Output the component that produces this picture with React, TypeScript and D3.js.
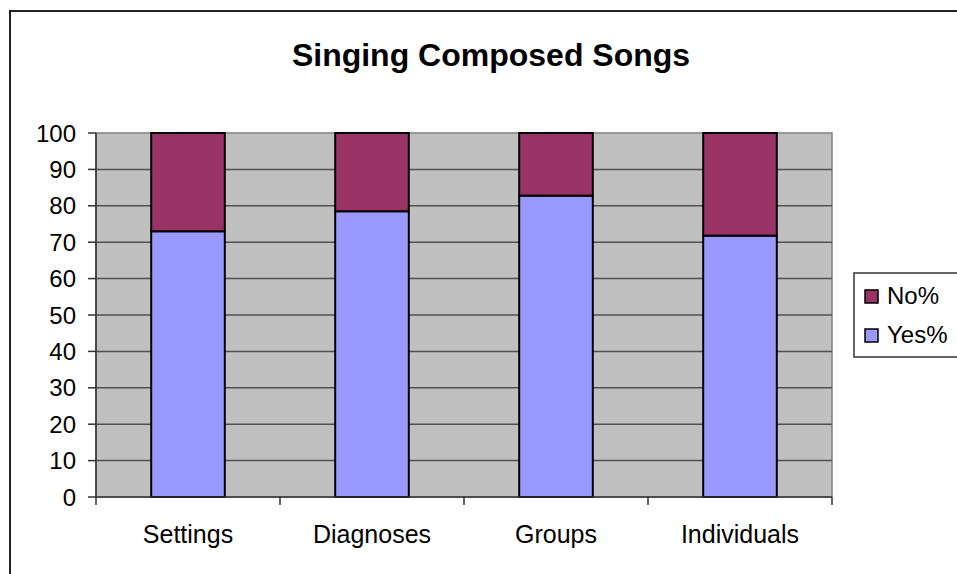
import * as d3 from "d3";

const categories = ["Settings", "Diagnoses", "Groups", "Individuals"];
const yesValues = [73, 78.5, 82.8, 71.8];
const noValues = [27, 21.5, 17.2, 28.2];
const yTicks = [0, 10, 20, 30, 40, 50, 60, 70, 80, 90, 100];
const seriesNames = ["Yes%", "No%"];
const seriesColors = ["#9999FF", "#993366"];

const W = 957;
const H = 574;
const plot = { left: 96, top: 133, right: 832, bottom: 497 };
const font = "'Liberation Sans', Arial, sans-serif";

export default function App() {
	const x = d3
		.scaleBand()
		.domain(categories)
		.range([plot.left, plot.right])
		.paddingInner(0)
		.paddingOuter(0);
	const y = d3.scaleLinear().domain([0, 100]).range([plot.bottom, plot.top]);

	const rows = categories.map((c, i) => ({
		cat: c,
		"Yes%": yesValues[i],
		"No%": noValues[i],
	}));
	const stacked = d3.stack<any>().keys(seriesNames)(rows);
	const barW = x.bandwidth() * 0.4;

	return (
		<svg
			width={W}
			height={H}
			style={{ position: "absolute", left: 0, top: 0, background: "#fff" }}
			fontFamily={font}
		>
			<rect x={10} y={11} width={W + 20} height={H + 20} fill="#fff" stroke="#222" strokeWidth={2} />
			<text x={491} y={66} textAnchor="middle" fontSize={32} fontWeight="bold">
				Singing Composed Songs
			</text>

			<rect
				x={plot.left}
				y={plot.top}
				width={plot.right - plot.left}
				height={plot.bottom - plot.top}
				fill="#C0C0C0"
				stroke="#808080"
				strokeWidth={1.5}
			/>
			{yTicks.map((t) => (
				<g key={t}>
					{t > 0 && t < 100 && (
						<line x1={plot.left} x2={plot.right} y1={y(t)} y2={y(t)} stroke="#505050" strokeWidth={1.5} />
					)}
					<line x1={plot.left - 8} x2={plot.left} y1={y(t)} y2={y(t)} stroke="#333" strokeWidth={1.5} />
					<text x={76} y={y(t)} dy="0.36em" textAnchor="end" fontSize={24}>
						{t}
					</text>
				</g>
			))}

			{stacked.map((s, si) =>
				s.map((d, i) => (
					<rect
						key={seriesNames[si] + i}
						x={(x(categories[i]) as number) + (x.bandwidth() - barW) / 2}
						y={y(d[1])}
						width={barW}
						height={y(d[0]) - y(d[1])}
						fill={seriesColors[si]}
						stroke="#000"
						strokeWidth={2}
					/>
				))
			)}

			<line x1={plot.left} x2={plot.left} y1={plot.top} y2={plot.bottom} stroke="#333" strokeWidth={1.5} />
			<line x1={plot.left} x2={plot.right} y1={plot.bottom} y2={plot.bottom} stroke="#333" strokeWidth={1.5} />
			{categories.concat([""]).map((c, i) => {
				const xx = plot.left + i * x.bandwidth();
				return <line key={"t" + i} x1={xx} x2={xx} y1={plot.bottom} y2={plot.bottom + 8} stroke="#333" strokeWidth={1.5} />;
			})}
			{categories.map((c) => (
				<text
					key={c}
					x={(x(c) as number) + x.bandwidth() / 2}
					y={543}
					textAnchor="middle"
					fontSize={25}
				>
					{c}
				</text>
			))}

			<rect x={854} y={273} width={120} height={84} fill="#fff" stroke="#333" strokeWidth={1.5} />
			{["No%", "Yes%"].map((name, i) => (
				<g key={name}>
					<rect
						x={865}
						y={290 + i * 39}
						width={13}
						height={13}
						fill={seriesColors[seriesNames.indexOf(name)]}
						stroke="#000"
						strokeWidth={1.5}
					/>
					<text x={887} y={304 + i * 39} fontSize={24}>
						{name}
					</text>
				</g>
			))}
		</svg>
	);
}
